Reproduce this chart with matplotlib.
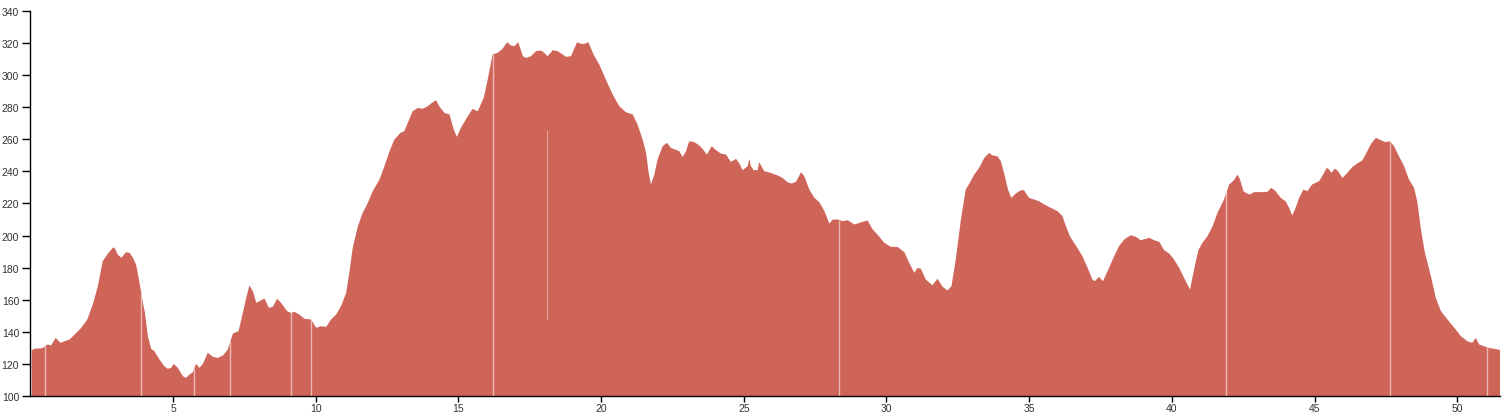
import numpy as np
import matplotlib
matplotlib.use("Agg")
from matplotlib import pyplot as plt

# distance (km) and elevation (m)
dist = [0.03, 0.13, 0.42, 0.52, 0.6, 0.71, 0.87, 1.04, 1.18, 1.36, 1.59, 1.77, 1.98, 2.17, 2.35,
        2.52, 2.7, 2.87, 2.93, 3.05, 3.17, 3.34, 3.46, 3.58, 3.69, 3.81, 3.93, 4.0, 4.1, 4.22,
        4.33, 4.51, 4.68, 4.8, 4.92, 5.01, 5.15, 5.33, 5.44, 5.56, 5.68, 5.79, 5.91, 6.03, 6.2,
        6.38, 6.55, 6.73, 6.9, 7.08, 7.28, 7.43, 7.55, 7.66, 7.78, 7.9, 8.01, 8.19, 8.34, 8.48,
        8.63, 8.77, 8.98, 9.12, 9.24, 9.41, 9.59, 9.82, 10.0, 10.17, 10.35, 10.52, 10.7, 10.87,
        11.05, 11.16, 11.28, 11.46, 11.63, 11.81, 11.98, 12.22, 12.39, 12.57, 12.74, 12.95,
        13.09, 13.21, 13.38, 13.56, 13.73, 13.91, 14.05, 14.2, 14.31, 14.49, 14.67, 14.82,
        14.93, 15.07, 15.31, 15.48, 15.66, 15.87, 16.01, 16.18, 16.36, 16.53, 16.69, 16.83,
        16.94, 17.08, 17.24, 17.35, 17.53, 17.7, 17.88, 17.99, 18.11, 18.29, 18.46, 18.64,
        18.75, 18.93, 19.14, 19.28, 19.39, 19.54, 19.72, 19.92, 20.15, 20.39, 20.62, 20.85,
        21.09, 21.26, 21.44, 21.56, 21.65, 21.73, 21.85, 21.96, 22.14, 22.29, 22.43, 22.72,
        22.84, 22.96, 23.07, 23.25, 23.43, 23.54, 23.69, 23.86, 24.01, 24.18, 24.36, 24.53,
        24.71, 24.83, 24.94, 25.12, 25.18, 25.23, 25.33, 25.47, 25.52, 25.7, 25.93, 26.17,
        26.34, 26.52, 26.66, 26.81, 26.99, 27.1, 27.28, 27.46, 27.63, 27.81, 27.98, 28.1,
        28.27, 28.45, 28.62, 28.86, 29.09, 29.32, 29.5, 29.67, 29.91, 30.14, 30.37, 30.61,
        30.78, 30.96, 31.07, 31.19, 31.36, 31.59, 31.77, 31.95, 32.12, 32.26, 32.41, 32.59,
        32.76, 32.88, 33.06, 33.23, 33.41, 33.58, 33.7, 33.87, 33.99, 34.13, 34.24, 34.36,
        34.51, 34.69, 34.8, 34.98, 35.16, 35.33, 35.51, 35.74, 35.98, 36.15, 36.27, 36.42,
        36.62, 36.85, 37.03, 37.2, 37.28, 37.43, 37.57, 37.78, 37.96, 38.13, 38.31, 38.54,
        38.72, 38.89, 39.07, 39.19, 39.36, 39.54, 39.71, 39.89, 40.06, 40.24, 40.41, 40.62,
        40.76, 40.91, 41.05, 41.23, 41.41, 41.58, 41.81, 41.99, 42.16, 42.28, 42.37, 42.49,
        42.57, 42.72, 42.86, 43.15, 43.33, 43.47, 43.62, 43.8, 43.97, 44.09, 44.2, 44.32,
        44.44, 44.59, 44.73, 44.9, 45.14, 45.25, 45.41, 45.49, 45.57, 45.69, 45.78, 45.96,
        46.13, 46.31, 46.48, 46.66, 46.83, 46.97, 47.13, 47.3, 47.47, 47.63, 47.77, 47.94,
        48.12, 48.29, 48.47, 48.59, 48.71, 48.85, 49.06, 49.23, 49.41, 49.64, 49.88, 50.11,
        50.34, 50.51, 50.63, 50.75, 50.92, 51.07, 51.27, 51.44, 51.48]
elev = [128.7, 129.6, 130.0, 131.6, 132.3, 131.6, 136.4, 133.3, 134.3, 135.4, 139.5, 142.7, 147.9,
        157.2, 168.7, 184.3, 189.0, 192.6, 192.8, 188.4, 186.4, 189.9, 189.5, 186.4, 182.2,
        170.8, 158.3, 152.0, 137.5, 129.6, 128.1, 122.9, 118.7, 117.1, 117.7, 120.2, 117.7,
        112.5, 111.4, 113.5, 115.0, 120.2, 117.7, 120.2, 127.1, 124.6, 123.9, 125.4, 129.1,
        139.1, 140.6, 152.0, 161.4, 169.1, 165.6, 158.3, 159.3, 161.0, 155.2, 155.8, 160.8,
        158.3, 153.1, 152.0, 152.7, 151.0, 148.3, 147.9, 142.7, 143.7, 143.3, 147.9, 151.0,
        156.2, 164.5, 177.0, 192.6, 206.1, 214.5, 220.7, 228.0, 235.3, 243.6, 253.0, 260.2,
        264.4, 265.5, 270.7, 277.9, 280.0, 279.4, 281.1, 283.1, 284.8, 281.1, 276.9, 275.9,
        266.5, 261.9, 267.5, 274.8, 279.4, 277.9, 286.3, 297.7, 313.3, 314.4, 316.9, 321.0,
        318.9, 318.5, 321.0, 312.3, 311.2, 312.3, 315.4, 315.8, 314.4, 312.3, 316.0, 315.4,
        313.3, 311.9, 312.3, 321.0, 320.0, 320.0, 321.0, 313.3, 307.1, 297.7, 288.3, 281.1,
        277.3, 275.9, 269.6, 260.2, 251.9, 239.4, 232.2, 238.4, 247.8, 256.1, 258.2, 255.0,
        253.0, 249.4, 253.0, 259.2, 258.6, 256.5, 254.4, 250.9, 256.1, 253.6, 251.5, 250.9,
        246.3, 248.2, 245.3, 241.1, 243.6, 248.2, 243.6, 241.1, 241.1, 246.1, 240.5, 239.4,
        237.8, 236.3, 233.6, 232.8, 233.8, 239.9, 237.4, 229.0, 223.8, 221.1, 215.5, 207.8,
        210.3, 210.3, 209.3, 209.9, 207.2, 208.6, 209.7, 204.1, 200.9, 195.7, 193.2, 193.2,
        189.9, 183.2, 177.0, 180.1, 179.5, 172.8, 169.3, 173.3, 168.3, 166.0, 168.7, 185.3,
        210.3, 229.0, 232.6, 238.4, 242.6, 248.8, 251.9, 250.3, 249.8, 246.7, 237.4, 229.0,
        223.8, 226.5, 228.6, 228.6, 223.8, 222.8, 221.7, 219.7, 217.6, 215.5, 212.4, 206.1,
        199.5, 194.1, 187.4, 180.1, 172.8, 171.8, 174.5, 171.8, 180.1, 187.4, 193.7, 197.8,
        200.5, 199.5, 197.4, 198.2, 198.9, 197.4, 196.4, 191.2, 189.1, 185.3, 180.1, 173.9,
        166.6, 179.1, 191.2, 195.7, 199.9, 206.1, 214.5, 222.8, 232.2, 234.9, 238.4, 235.3,
        228.0, 227.0, 225.9, 227.4, 227.4, 227.6, 230.1, 228.0, 223.8, 221.7, 217.6, 212.8,
        217.6, 223.8, 229.0, 228.0, 232.2, 234.2, 237.4, 242.6, 241.5, 239.4, 242.0, 241.1,
        236.3, 239.4, 243.2, 245.3, 247.3, 253.0, 257.8, 261.3, 259.9, 258.6, 259.2, 256.1,
        249.8, 243.6, 235.3, 230.1, 220.7, 204.1, 189.5, 174.9, 161.4, 153.1, 147.9, 142.7,
        137.5, 134.3, 133.3, 136.4, 132.3, 131.2, 130.2, 129.6, 129.1, 128.7]

# thin light seams visible in the filled area (km)
seam_km = [0.52, 3.88, 5.73, 6.99, 9.12, 9.82, 16.2, 28.35, 41.9, 47.63, 51.05]
partial_km = 18.1
partial_range = (148, 265)

xticks = [5, 10, 15, 20, 25, 30, 35, 40, 45, 50]
yticks = list(range(100, 341, 20))

fill_col = "#CF6459"

fig = plt.figure(figsize=(15.03, 4.14), dpi=100)
ax = fig.add_axes([30.3 / 1503, 17.3 / 414, (1499.5 - 30.3) / 1503, (396.7 - 12.3) / 414])

ax.fill_between(dist, 100, elev, color=fill_col, lw=0, zorder=2)

xs = np.array(dist)
ys = np.array(elev)
for k in seam_km:
    top = np.interp(k, xs, ys)
    ax.plot([k, k], [100, top - 0.5], color="white", lw=1.0, alpha=0.55, zorder=3)
ax.plot([partial_km, partial_km], partial_range, color="white", lw=0.8, alpha=0.4, zorder=3)

ax.set_xlim(0, 51.48)
ax.set_ylim(100, 340)
ax.set_xticks(xticks)
ax.set_yticks(yticks)
ax.spines["top"].set_visible(False)
ax.spines["right"].set_visible(False)
for s in ["left", "bottom"]:
    ax.spines[s].set_color("black")
    ax.spines[s].set_linewidth(1.0)
ax.tick_params(axis="both", direction="out", width=1, color="black",
               labelsize=7.5, labelcolor="#333333")
ax.tick_params(axis="y", length=6, pad=2)
ax.tick_params(axis="x", length=4, pad=1)
for lab in ax.get_xticklabels() + ax.get_yticklabels():
    lab.set_fontfamily("Liberation Sans")

fig.savefig("out.png", dpi=100)
